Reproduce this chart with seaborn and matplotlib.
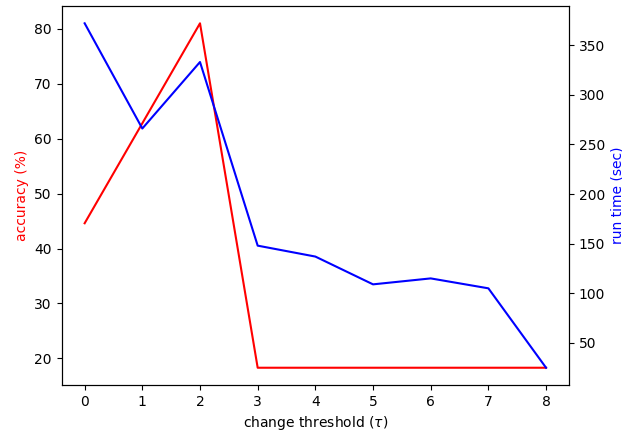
import pandas as pd
import seaborn as sns
import matplotlib.pyplot as plt

# Data
thresholds = [0, 1, 2, 3, 4, 5, 6, 7, 8]
accuracy = [44.6, 62.8, 81.0, 18.3, 18.3, 18.3, 18.3, 18.3, 18.3]
run_time = [372, 266, 333, 148, 137, 109, 115, 105, 25]

df = pd.DataFrame({"tau": thresholds, "accuracy": accuracy, "run_time": run_time})

fig, ax1 = plt.subplots(figsize=(6.22, 4.34), dpi=100)
sns.lineplot(ax=ax1, data=df, x="tau", y="accuracy", color="red")
ax1.set_xlabel(r"change threshold ($\tau$)")
ax1.set_ylabel("accuracy (%)", color="red")

ax2 = ax1.twinx()
sns.lineplot(ax=ax2, data=df, x="tau", y="run_time", color="blue")
ax2.set_ylabel("run time (sec)", color="blue")
ax2.set_xlabel("")

fig.subplots_adjust(left=0.099, right=0.915, top=0.986, bottom=0.113)
fig.savefig("out.png")
